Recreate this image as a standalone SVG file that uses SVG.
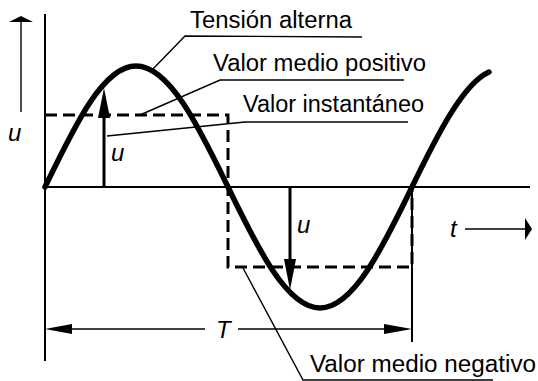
<svg xmlns="http://www.w3.org/2000/svg" width="538" height="381" viewBox="0 0 538 381">
<style>
.axis{stroke:#000;stroke-width:2;fill:none}
.thin{stroke:#000;stroke-width:1.4;fill:none}
.dash{stroke:#000;stroke-width:3;fill:none;stroke-dasharray:12 6}
.wave{stroke:#000;stroke-width:5.5;fill:none;stroke-linecap:round}
.lbl{font-family:"Liberation Sans",Arial,sans-serif;font-size:23px;fill:#000}
.it{font-family:"Liberation Sans",Arial,sans-serif;font-size:24px;font-style:italic;fill:#000}
</style>
<rect width="538" height="381" fill="#fff"/>
<g id="axes">
<line class="axis" x1="45" y1="14" x2="45" y2="361"/>
<line class="axis" x1="45" y1="187" x2="530" y2="187"/>
<line class="axis" x1="412" y1="187" x2="412" y2="342"/>
</g>
<g id="mean-rect">
<polyline class="dash" points="45,115 228,115 228,267 412,267 412,187"/>
</g>
<g id="wave">
<path class="wave" d="M45,187 C75,125 103,66 136,66 C169,66 198,125 228,187 C258,249 287,308 320,308 C353,308 382,249 412,187 C437.7,134 463.3,83.4 489,72"/>
</g>
<g id="connectors">
<line x1="104" y1="187" x2="104" y2="115" stroke="#000" stroke-width="3"/>
<polygon points="104,88 98,118 110,118" fill="#000"/>
<line x1="290" y1="187" x2="290" y2="262" stroke="#000" stroke-width="3"/>
<polygon points="290,290 284,259 296,259" fill="#000"/>
<line class="thin" x1="21" y1="112" x2="21" y2="20"/>
<polygon points="21,16 9,22 33,22" fill="#000"/>
<line class="thin" x1="465" y1="229" x2="526" y2="229"/>
<polygon points="532,229 525,218 525,240" fill="#000"/>
<line class="thin" x1="60" y1="329" x2="205" y2="329"/>
<line class="thin" x1="238" y1="329" x2="395" y2="329"/>
<polygon points="45,329 72,324 72,334" fill="#000"/>
<polygon points="412,329 384,324 384,334" fill="#000"/>
<polyline class="thin" points="152,70 185,36 362,37"/>
<polyline class="thin" points="140,115 220,80 404,80"/>
<polyline class="thin" points="107,136 245,122 408,122"/>
<polyline class="thin" points="243,268 303,380 493,380"/>
</g>
<g id="labels">
<text class="lbl" x="190" y="28" textLength="162" lengthAdjust="spacingAndGlyphs">Tensión alterna</text>
<text class="lbl" x="213" y="71" textLength="213" lengthAdjust="spacingAndGlyphs">Valor medio positivo</text>
<text class="lbl" x="243" y="112" textLength="181" lengthAdjust="spacingAndGlyphs">Valor instantáneo</text>
<text class="lbl" x="310" y="372" textLength="226" lengthAdjust="spacingAndGlyphs">Valor medio negativo</text>
<text class="it" x="8" y="141">u</text>
<text class="it" x="111" y="161">u</text>
<text class="it" x="297" y="233">u</text>
<text class="it" x="450" y="237">t</text>
<text class="it" x="216" y="338">T</text>
</g>
</svg>
